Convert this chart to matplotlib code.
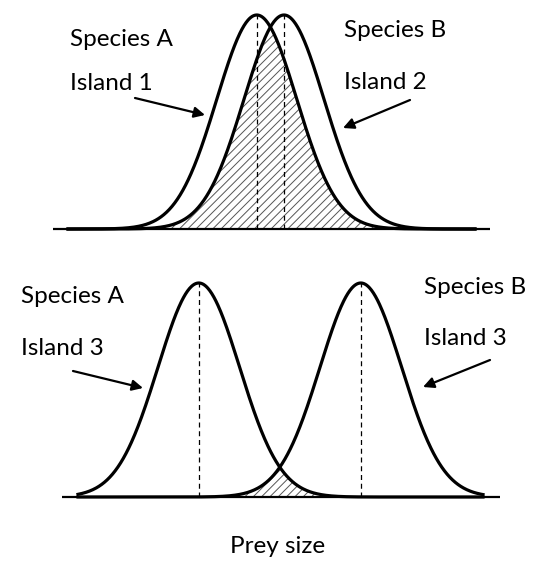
import matplotlib.pyplot as plt
import numpy as np

plt.rcParams['font.family'] = ['Lato', 'DejaVu Sans']

# prey size distributions (arbitrary units, sd in same units)
top_means = [6.42, 7.10]      # species A island 1, species B island 2
top_sds = [1.0, 1.0]
bottom_means = [4.97, 9.02]   # species A island 3, species B island 3
bottom_sds = [1.02, 1.02]

top_labels = [("Species A", "Island 1"), ("Species B", "Island 2")]
bottom_labels = [("Species A", "Island 3"), ("Species B", "Island 3")]
xlabel = "Prey size"

W, H = 538, 574
fig = plt.figure(figsize=(W / 100, H / 100), dpi=100, facecolor='white')


def gauss(x, m, s):
    return np.exp(-0.5 * ((x - m) / s) ** 2)


def panel(top_px, bot_px, base_px, peak_px, means, sds, line_rng, curve_rng):
    ax = fig.add_axes([0, 1 - bot_px / H, 1, (bot_px - top_px) / H])
    scale = base_px - peak_px
    ax.set_ylim(-(bot_px - base_px) / scale, 1 + (peak_px - top_px) / scale)
    ax.set_xlim(0, W / 40)
    ax.axis('off')
    x = np.linspace(curve_rng[0], curve_rng[1], 600)
    ys = [gauss(x, m, s) for m, s in zip(means, sds)]
    ax.fill_between(x, 0, np.minimum(ys[0], ys[1]), facecolor='none',
                    edgecolor='#555555', hatch='////', linewidth=0)
    ax.plot(line_rng, [0, 0], color='black', lw=1.6, solid_capstyle='butt')
    for m, y in zip(means, ys):
        ax.plot(x, y, color='black', lw=2.3)
        ax.plot([m, m], [0, 1], color='black', lw=0.9, linestyle=(0, (4, 3)))
    return ax


plt.rcParams['hatch.linewidth'] = 0.7
panel(0, 240, 229, 15, top_means, top_sds, (1.325, 12.25), (1.7, 11.875))
panel(260, 520, 497, 283, bottom_means, bottom_sds, (1.55, 12.5), (1.95, 12.075))


def label(px, py, s, **kw):
    fig.text(px / W, 1 - py / H, s, fontsize=17.5, va='baseline', color='black', **kw)


label(70, 46, top_labels[0][0])
label(70, 90, top_labels[0][1])
label(344, 37, top_labels[1][0])
label(344, 89, top_labels[1][1])
label(21, 303, bottom_labels[0][0])
label(21, 355, bottom_labels[0][1])
label(424, 294, bottom_labels[1][0])
label(424, 345, bottom_labels[1][1])
label(278, 553, xlabel, ha='center')


def arrow(tail, head):
    fig.add_artist(plt.Annotation(
        '', xy=(head[0] / W, 1 - head[1] / H), xytext=(tail[0] / W, 1 - tail[1] / H),
        xycoords='figure fraction', textcoords='figure fraction',
        arrowprops=dict(arrowstyle='-|>', color='black', lw=1.6, mutation_scale=16,
                        shrinkA=0, shrinkB=0)))


arrow((135, 98), (205, 115))
arrow((410, 100), (343, 128))
arrow((73, 371), (143, 388))
arrow((490, 360), (423, 387))

fig.savefig('out.png', dpi=100, facecolor='white')
